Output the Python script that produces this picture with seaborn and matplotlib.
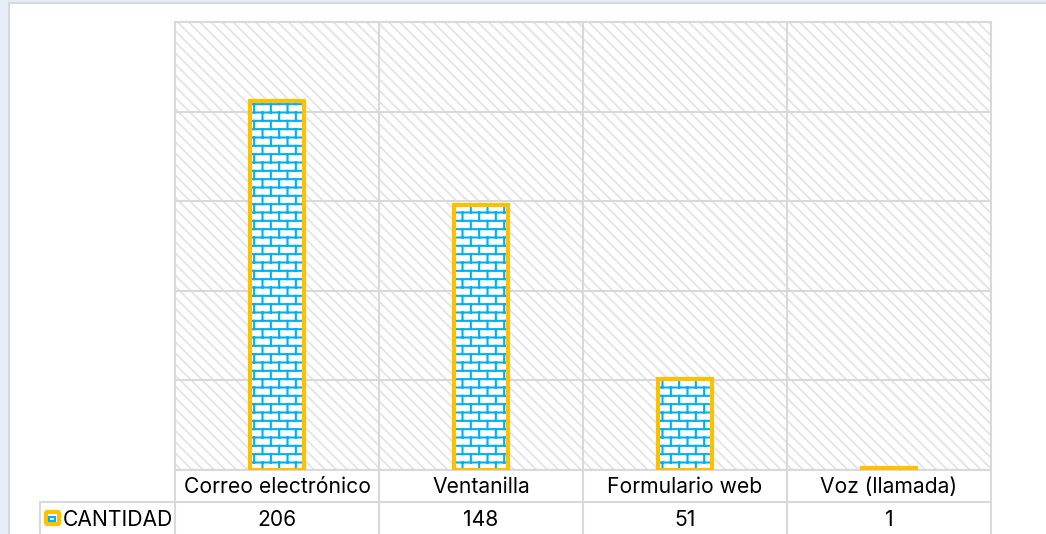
import warnings
import numpy as np
import pandas as pd
import matplotlib
matplotlib.use("Agg")
import matplotlib.pyplot as plt
from matplotlib import hatch as mhatch
from matplotlib.path import Path
from matplotlib.patches import Rectangle, FancyBboxPatch
from matplotlib.transforms import blended_transform_factory
import seaborn as sns

warnings.filterwarnings("ignore")

# ---- data -------------------------------------------------------------
canales = ["Correo electrónico", "Ventanilla", "Formulario web", "Voz (llamada)"]
cantidad = [206, 148, 51, 1]
serie = "CANTIDAD"
y_max = 250
y_step = 50

# ---- colours ----------------------------------------------------------
BLUE = "#00B0F0"
GOLD = "#FFC000"
GRID = "#D9D9D9"
STRIPE = "#E2E2E2"
OUTER = "#E8EEF9"
FS = 15.2


# ---- running-bond brick hatch ('b') -----------------------------------
class BrickHatch(mhatch.HatchPatternBase):
    """Brick wall: horizontal mortar lines with staggered vertical joints."""

    def __init__(self, hatch, density):
        n = hatch.count("b")
        self.rows = 12 * n
        self.cols = 6
        # per row: one horizontal line and `cols` joints; the top row's
        # joints wrap around the tile edge and need an extra segment each
        self.num_vertices = (self.rows * (1 + self.cols) + self.cols) * 2 if n else 0

    def set_vertices_and_codes(self, vertices, codes):
        h = 1.0 / self.rows
        w = 1.0 / self.cols
        k = 0

        def seg(p0, p1):
            nonlocal k
            vertices[k] = p0
            vertices[k + 1] = p1
            codes[k] = Path.MOVETO
            codes[k + 1] = Path.LINETO
            k += 2

        for r in range(self.rows):
            y0 = r * h + h / 2
            seg((0.0, y0), (1.0, y0))
            off = w / 4 + (w / 2 if r % 2 else 0.0)
            last = r == self.rows - 1
            for c in range(self.cols):
                x = off + c * w
                if last:
                    seg((x, y0), (x, 1.0))
                    seg((x, 0.0), (x, h / 2))
                else:
                    seg((x, y0), (x, y0 + h))


mhatch._hatch_types.append(BrickHatch)

# ---- style ------------------------------------------------------------
sns.set_theme(style="white")
plt.rcParams["font.family"] = ["Inter", "DejaVu Sans"]
plt.rcParams["hatch.linewidth"] = 1.5

W, H = 1046, 534
fig = plt.figure(figsize=(W / 100, H / 100), dpi=100, facecolor=OUTER)

# white chart canvas with a thin border
fig.patches.append(Rectangle((9 / W, -0.1), 1.2, 1.1 - 3 / H,
                             transform=fig.transFigure, facecolor="white",
                             edgecolor=GRID, linewidth=1.5, zorder=-10))

ax = fig.add_axes([175 / W, 64 / H, 816 / W, 448 / H])
ax.set_zorder(1)
ax.set_facecolor("white")

# diagonal-striped plot background
bg = Rectangle((0, 0), 1, 1, transform=ax.transAxes, facecolor="white",
               edgecolor=STRIPE, hatch="\\\\\\", linewidth=0, zorder=0)
if hasattr(bg, "set_hatch_linewidth"):
    bg.set_hatch_linewidth(1.2)
ax.add_patch(bg)

df = pd.DataFrame({"canal": canales, "cantidad": cantidad})

# brick-filled bars
sns.barplot(data=df, x="canal", y="cantidad", color="white", edgecolor=BLUE,
            linewidth=0, hatch="b", width=0.265, saturation=1, errorbar=None,
            ax=ax, zorder=2)
# gold outline on top
sns.barplot(data=df, x="canal", y="cantidad", color=GOLD, fill=False,
            linewidth=3, width=0.265, saturation=1, errorbar=None,
            ax=ax, zorder=3)

ax.set_xlim(-0.5, len(canales) - 0.5)
ax.set_ylim(0, y_max)
ax.set_yticks(np.arange(0, y_max + 1, y_step))
ax.set_yticklabels([])
ax.set_xticks(np.arange(len(canales)) + 0.5, minor=True)
ax.grid(axis="y", which="major", color=GRID, linewidth=1.5)
ax.grid(axis="x", which="minor", color=GRID, linewidth=1.5)
ax.grid(axis="x", which="major", visible=False)
ax.set_axisbelow(True)
ax.set_xlabel("")
ax.set_ylabel("")
for s in ax.spines.values():
    s.set_color(GRID)
    s.set_linewidth(1.5)
ax.tick_params(axis="both", which="both", length=0)
# category names sit with their baseline 23 px under the axis line
ax.tick_params(axis="x", labelsize=FS, labelcolor="black", pad=23 * 0.72)
for lab in ax.get_xticklabels():
    lab.set_verticalalignment("baseline")

# ---- data table under the axis ----------------------------------------
bt = blended_transform_factory(ax.transData, ax.transAxes)
row_h = 32 / 448
col_px = 816 / len(canales)
label_left = -0.5 - 135 / col_px
value_base = -(526 - 470) / 448

line_kw = dict(transform=bt, color=GRID, linewidth=1.5, clip_on=False)
for xb in np.arange(len(canales) + 1) - 0.5:
    ax.plot([xb, xb], [0, -3 * row_h], **line_kw)
ax.plot([label_left, len(canales) - 0.5], [-row_h, -row_h], **line_kw)
ax.plot([label_left, label_left], [-row_h, -3 * row_h], **line_kw)

for i, v in enumerate(cantidad):
    ax.text(i, value_base, f"{v}", transform=bt, ha="center", va="baseline",
            fontsize=FS, color="black", clip_on=False)

ax.text(label_left + 23 / col_px, value_base, serie, transform=bt,
        ha="left", va="baseline", fontsize=FS, color="black", clip_on=False)

# series key: gold square with a blue brick swatch
kx = label_left + 6 / col_px
ky = -(524 - 470) / 448
ax.add_patch(FancyBboxPatch((kx, ky), 13 / col_px, 12 / 448,
                            boxstyle="round,pad=0,rounding_size=0.005",
                            transform=bt, facecolor="white", edgecolor=GOLD,
                            linewidth=3, clip_on=False, zorder=4))
ax.add_patch(Rectangle((kx + 3 / col_px, ky + 3 / 448), 6 / col_px, 4 / 448,
                       transform=bt, facecolor="white", edgecolor=BLUE,
                       linewidth=1.5, clip_on=False, zorder=5))

fig.savefig("out.png", dpi=100, facecolor=fig.get_facecolor())
